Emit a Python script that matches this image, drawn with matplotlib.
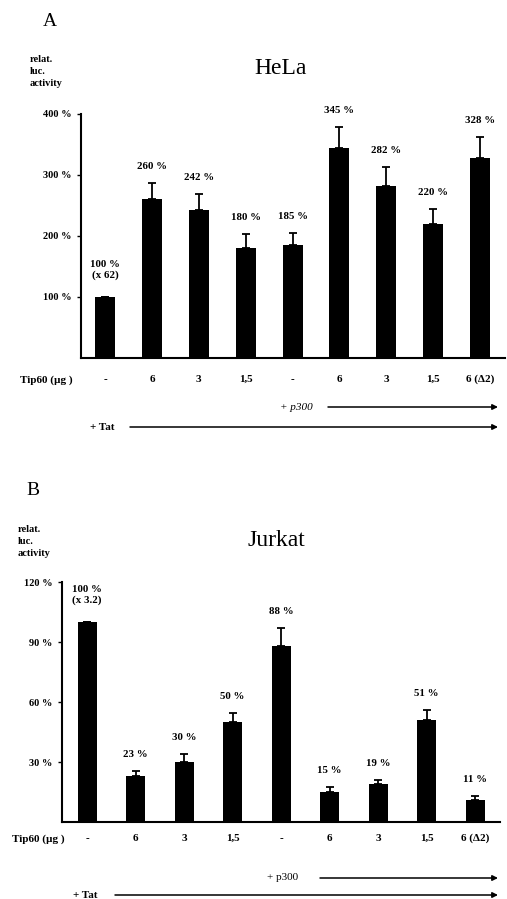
import numpy as np
import matplotlib
matplotlib.use("Agg")
import matplotlib.pyplot as plt
import matplotlib.transforms as mtransforms

plt.rcParams['font.family'] = ['Liberation Serif', 'DejaVu Serif']

# ---- data ----
tip60_labels = ['-', '6', '3', '1,5', '-', '6', '3', '1,5', '6 (\u03942)']

hela_values = [100, 260, 242, 180, 185, 345, 282, 220, 328]
hela_err = [0, 27, 27, 23, 20, 34, 31, 24, 34]
hela_text = ['100 %\n(x 62)', '260 %', '242 %', '180 %', '185 %',
             '345 %', '282 %', '220 %', '328 %']
hela_ticks = [100, 200, 300, 400]

jurkat_values = [100, 23, 30, 50, 88, 15, 19, 51, 11]
jurkat_err = [0, 2.5, 4, 4.5, 9, 2.5, 2, 5, 2]
jurkat_text = ['100 %\n(x 3.2)', '23 %', '30 %', '50 %', '88 %',
               '15 %', '19 %', '51 %', '11 %']
jurkat_ticks = [30, 60, 90, 120]

W, H = 507, 899
fig = plt.figure(figsize=(W / 100, H / 100), dpi=100)


def fx(px):
    return px / W


def fy(py):
    return 1 - py / H


def panel(rect, values, err, texts, ticks, ymax, xlim, width, title, letter,
          letter_xy, title_xy, ylab_xy, tick_pad, tip_xy, p300_y, tat_y,
          p300_x, p300_arrow, tat_x, tat_arrow, p300_italic):
    ax = fig.add_axes(rect)
    x = np.arange(len(values))
    ax.bar(x, values, width=width, color='black')
    ax.errorbar(x, values, yerr=[np.zeros(len(err)), err], fmt='none',
                ecolor='black', elinewidth=1.3, capsize=3, capthick=1.3)
    for xi, v, e, t in zip(x, values, err, texts):
        ax.annotate(t, (xi, v + e), xytext=(0, 12), textcoords='offset points',
                    ha='center', va='center' if '\n' not in t else 'bottom',
                    fontsize=7.8, fontweight='bold', linespacing=1.2)
    ax.set_ylim(0, ymax)
    ax.set_xlim(*xlim)
    ax.set_yticks(ticks)
    ax.set_yticklabels([f'{t} %' for t in ticks], fontsize=7.5, fontweight='bold')
    ax.set_xticks(x)
    ax.set_xticklabels(tip60_labels, fontsize=8, fontweight='bold')
    ax.tick_params(axis='x', length=0, pad=tick_pad)
    ax.tick_params(axis='y', length=3, width=1, pad=4)
    for s in ['top', 'right']:
        ax.spines[s].set_visible(False)
    for s in ['left', 'bottom']:
        ax.spines[s].set_linewidth(1.5)

    fig.text(fx(letter_xy[0]), fy(letter_xy[1]), letter, fontsize=14,
             ha='left', va='center')
    fig.text(fx(title_xy[0]), fy(title_xy[1]), title, fontsize=17,
             ha='center', va='center')
    fig.text(fx(ylab_xy[0]), fy(ylab_xy[1]), 'relat.\nluc.\nactivity',
             fontsize=7.5, fontweight='bold', ha='left', va='top',
             linespacing=1.45)
    fig.text(fx(tip_xy[0]), fy(tip_xy[1]), 'Tip60 (\u00b5g )', fontsize=8,
             fontweight='bold', ha='left', va='center')

    trans = mtransforms.blended_transform_factory(ax.transData, fig.transFigure)
    fig.text(fx(p300_x), fy(p300_y), '+ p300', fontsize=8,
             fontstyle='italic' if p300_italic else 'normal',
             ha='left', va='center')
    fig.text(fx(tat_x), fy(tat_y), '+ Tat', fontsize=8, fontweight='bold',
             ha='left', va='center')
    for (x0, x1), yy in [(p300_arrow, p300_y), (tat_arrow, tat_y)]:
        ax.annotate('', xy=(x1, fy(yy)), xytext=(x0, fy(yy)),
                    xycoords=trans, textcoords=trans, annotation_clip=False,
                    arrowprops=dict(arrowstyle='-|>', color='black', lw=1.1,
                                    mutation_scale=8, shrinkA=0, shrinkB=0))
    return ax


# Panel A: HeLa
pxA = 375 / 8
panel([fx(81), fy(358), (505 - 81) / W, (358 - 114) / H],
      hela_values, hela_err, hela_text, hela_ticks, 400,
      (-(105 - 81) / pxA, 8 + (505 - 480) / pxA), 20 / pxA,
      'HeLa', 'A', (43, 22), (281, 68), (30, 55), 12, (20, 380),
      407, 427, 280, ((328 - 105) / pxA, (498 - 105) / pxA),
      90, ((130 - 105) / pxA, (498 - 105) / pxA), True)

# Panel B: Jurkat
pxB = 388 / 8
panel([fx(62), fy(822), (500 - 62) / W, (822 - 582) / H],
      jurkat_values, jurkat_err, jurkat_text, jurkat_ticks, 120,
      (-(87 - 62) / pxB, 8 + (500 - 475) / pxB), 19 / pxB,
      'Jurkat', 'B', (26, 490), (276, 540), (18, 525), 8.5, (12, 839),
      878, 895, 267, ((320 - 87) / pxB, (498 - 87) / pxB),
      73, ((115 - 87) / pxB, (498 - 87) / pxB), False)

fig.savefig('out.png', dpi=100, facecolor='white')
